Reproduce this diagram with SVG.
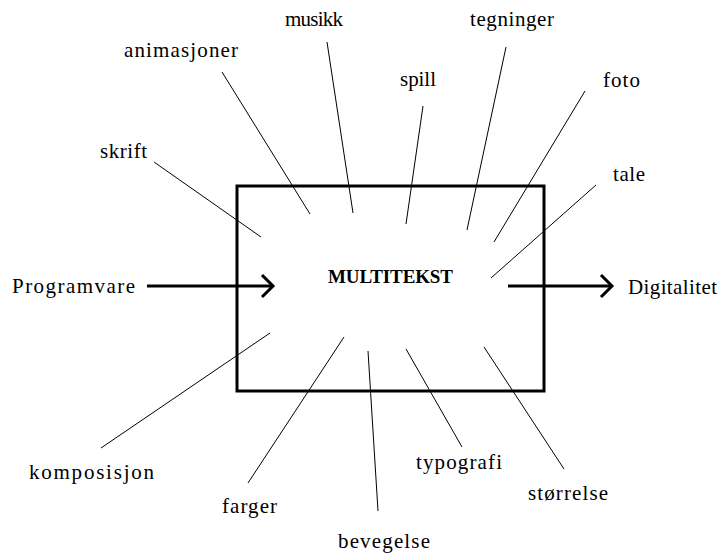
<svg xmlns="http://www.w3.org/2000/svg" width="722" height="556" viewBox="0 0 722 556">
<style>
text{font-family:"Liberation Serif","Times New Roman","DejaVu Serif",serif;font-size:21px;fill:#000}
.b{font-weight:bold;font-size:19px}
.t{stroke:#000;stroke-width:1;fill:none}
.k{stroke:#000;stroke-width:3;fill:none}
</style>
<rect width="722" height="556" fill="#fff"/>
<g id="box"><rect class="k" x="237" y="186" width="307" height="205"/></g>
<g id="connectors">
<line class="t" x1="154" y1="162" x2="261" y2="237"/>
<line class="t" x1="222" y1="72" x2="310" y2="214"/>
<line class="t" x1="327" y1="42" x2="353" y2="213"/>
<line class="t" x1="423" y1="106" x2="406" y2="224"/>
<line class="t" x1="506" y1="47" x2="467" y2="230"/>
<line class="t" x1="585" y1="91" x2="494" y2="242"/>
<line class="t" x1="596" y1="185" x2="491" y2="278"/>
<line class="t" x1="270" y1="333" x2="101" y2="448"/>
<line class="t" x1="344" y1="337" x2="248" y2="483"/>
<line class="t" x1="368" y1="351" x2="378" y2="511"/>
<line class="t" x1="406" y1="349" x2="462" y2="447"/>
<line class="t" x1="484" y1="347" x2="564" y2="469"/>
<line class="k" x1="147" y1="286" x2="272" y2="286"/>
<polyline class="k" points="262,275 273,286 262,297"/>
<line class="k" x1="508" y1="286" x2="611" y2="286"/>
<polyline class="k" points="601,275 612,286 601,297"/>
</g>
<g id="center"><text class="b" x="328" y="283" textLength="125">MULTITEKST</text></g>
<g id="n-programvare"><text x="12" y="293" textLength="123">Programvare</text></g>
<g id="n-digitalitet"><text x="628" y="294" textLength="89">Digitalitet</text></g>
<g id="n-musikk"><text x="285" y="26" textLength="58">musikk</text></g>
<g id="n-animasjoner"><text x="124" y="57" textLength="114">animasjoner</text></g>
<g id="n-skrift"><text x="100" y="158" textLength="47">skrift</text></g>
<g id="n-tegninger"><text x="470" y="26" textLength="84">tegninger</text></g>
<g id="n-spill"><text x="400" y="86" textLength="36">spill</text></g>
<g id="n-foto"><text x="603" y="87" textLength="37">foto</text></g>
<g id="n-tale"><text x="613" y="181" textLength="32">tale</text></g>
<g id="n-komposisjon"><text x="29" y="479" textLength="125">komposisjon</text></g>
<g id="n-farger"><text x="222" y="513" textLength="55">farger</text></g>
<g id="n-bevegelse"><text x="338" y="548" textLength="92">bevegelse</text></g>
<g id="n-typografi"><text x="416" y="469" textLength="86">typografi</text></g>
<g id="n-storrelse"><text x="528" y="500" textLength="80">størrelse</text></g>
</svg>
